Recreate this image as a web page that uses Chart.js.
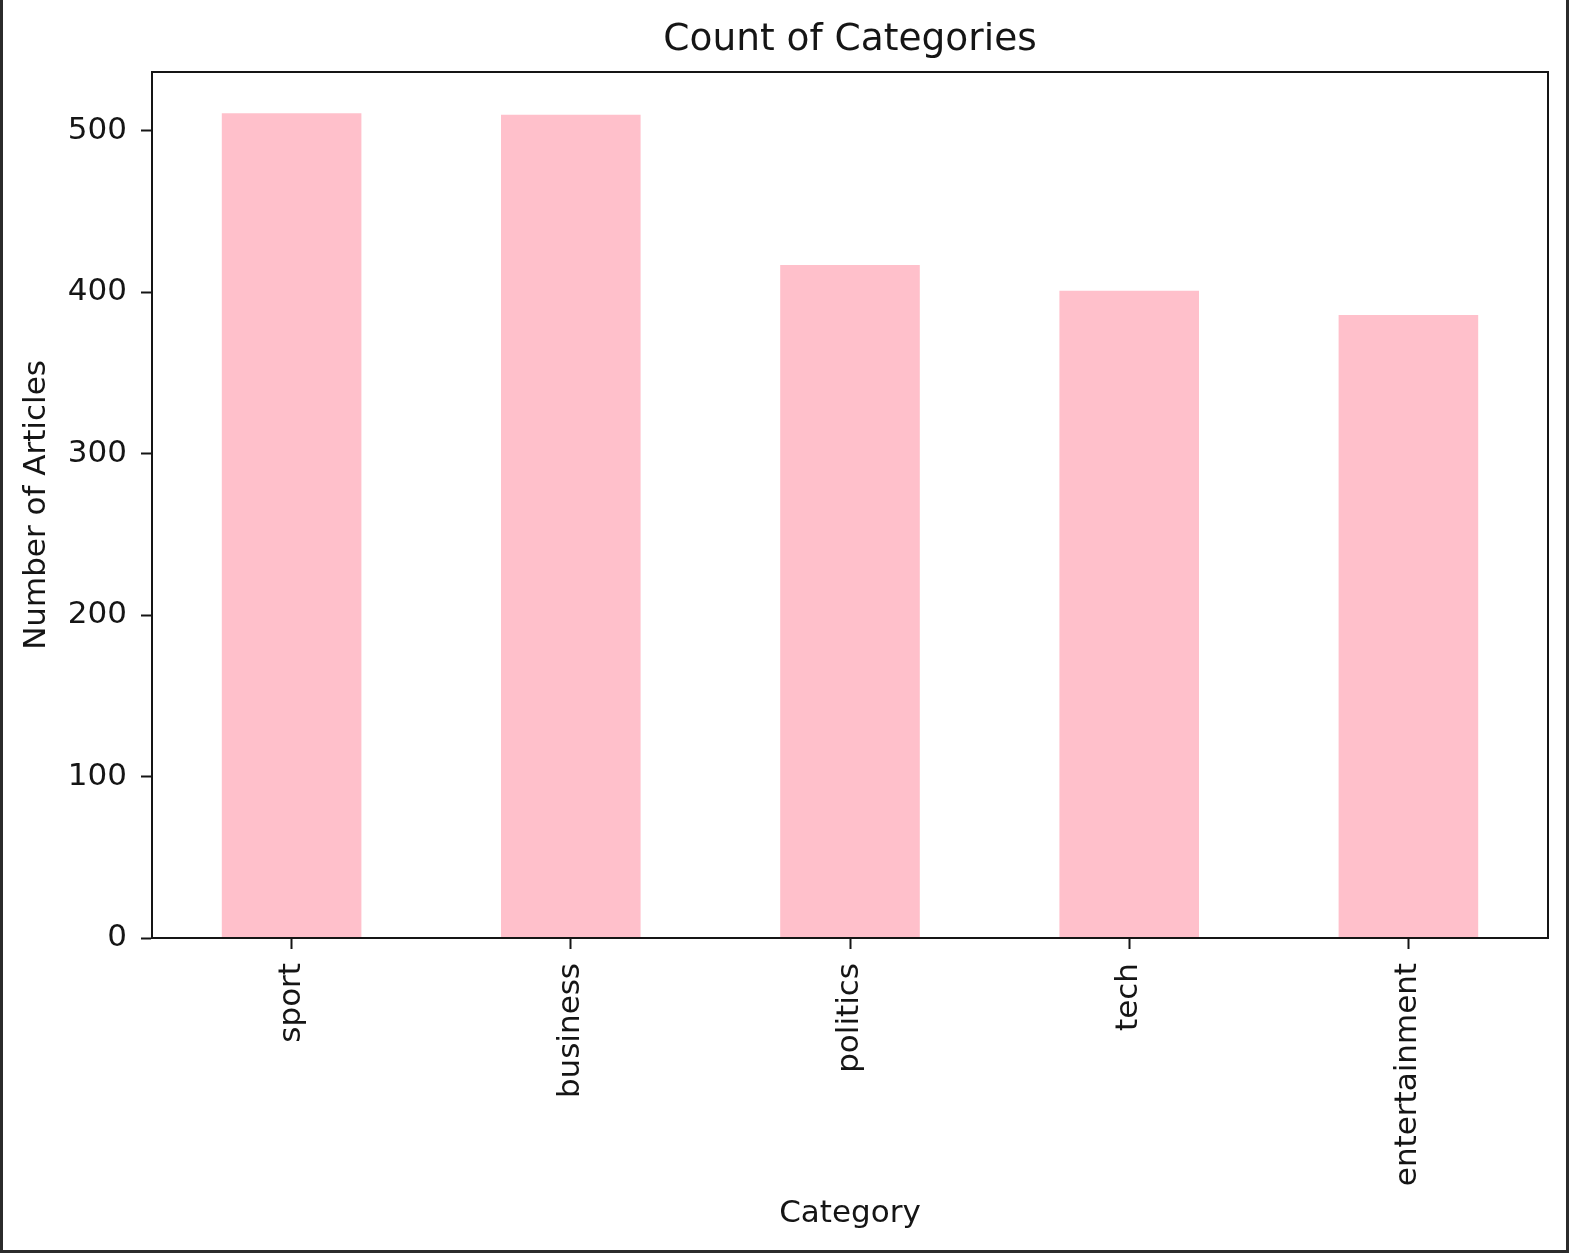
<!DOCTYPE html>
<html>
<head>
<meta charset="utf-8">
<script src="https://cdn.jsdelivr.net/npm/chart.js@4.4.1/dist/chart.umd.min.js"></script>
<style>
  html, body { margin: 0; padding: 0; background: #2b2b2b; }
  #frame { position: absolute; left: 0; top: 0; width: 1569px; height: 1253px; background: #2b2b2b; }
  #box { position: absolute; left: 3px; top: 0; width: 1563px; height: 1250px; background: #fff; }
</style>
</head>
<body>
<div id="frame"><div id="box"><canvas id="myChart"></canvas></div></div>
<script>
const categories = ['sport', 'business', 'politics', 'tech', 'entertainment'];
const articleCounts = [511, 510, 417, 401, 386];
const yTicks = [0, 100, 200, 300, 400, 500];
const yMax = 536.55;

const FONT = "'DejaVu Sans', sans-serif";
const INK = '#151515';

// matplotlib style frame round the plot area
const frameBox = {
  id: 'frameBox',
  afterDraw(chart) {
    const a = chart.chartArea;
    const c = chart.ctx;
    c.save();
    c.strokeStyle = INK;
    c.lineWidth = 2;
    c.strokeRect(a.left, a.top, a.right - a.left, a.bottom - a.top);
    c.restore();
  }
};

const ctx = document.getElementById('myChart');

new Chart(ctx, {
  type: 'bar',
  data: {
    labels: categories,
    datasets: [{
      label: 'Number of Articles',
      data: articleCounts,
      backgroundColor: '#ffc0cb',
      borderWidth: 0,
      barPercentage: 0.5,
      categoryPercentage: 1.0
    }]
  },
  options: {
    responsive: true,
    maintainAspectRatio: false,
    animation: false,
    devicePixelRatio: 1,
    layout: { padding: { left: 0, right: 18, top: 0, bottom: 0 } },
    plugins: {
      legend: { display: false },
      tooltip: { enabled: false },
      title: {
        display: true,
        text: 'Count of Categories',
        fullSize: false,
        color: INK,
        font: { family: FONT, size: 37.5, weight: 'normal', lineHeight: 1.2 },
        padding: { top: 18, bottom: 9 }
      }
    },
    scales: {
      x: {
        offset: true,
        grid: { display: true, drawOnChartArea: false, offset: false, drawTicks: true, tickLength: 11, tickWidth: 2, tickColor: INK },
        border: { display: true, color: INK, width: 2 },
        ticks: {
          color: INK,
          font: { family: FONT, size: 31 },
          minRotation: 90,
          maxRotation: 90,
          padding: 14,
          autoSkip: false
        },
        title: {
          display: true,
          text: 'Category',
          color: INK,
          font: { family: FONT, size: 31, lineHeight: 1.2 },
          padding: { top: 0, bottom: 17 }
        },
        afterFit(scale) { scale.height = 312; }
      },
      y: {
        min: 0,
        max: yMax,
        grid: { display: true, drawOnChartArea: false, drawTicks: true, tickLength: 11, tickWidth: 2, tickColor: INK },
        border: { display: true, color: INK, width: 2 },
        ticks: {
          color: INK,
          font: { family: FONT, size: 31 },
          padding: 14
        },
        afterBuildTicks(scale) { scale.ticks = yTicks.map(v => ({ value: v })); },
        title: {
          display: true,
          text: 'Number of Articles',
          color: INK,
          font: { family: FONT, size: 31, lineHeight: 1.2 },
          padding: { top: 15, bottom: 0 }
        },
        afterFit(scale) { scale.width = 149; }
      }
    }
  },
  plugins: [frameBox]
});
</script>
</body>
</html>
